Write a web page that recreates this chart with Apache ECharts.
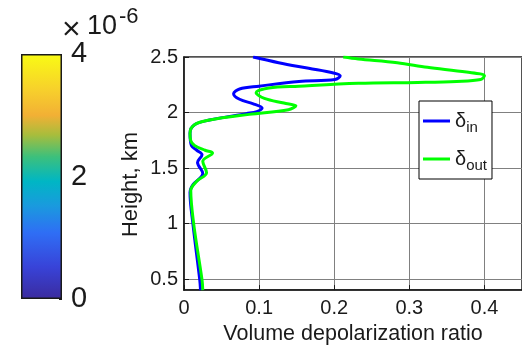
<!DOCTYPE html>
<html>
<head>
<meta charset="utf-8">
<script src="https://cdn.jsdelivr.net/npm/echarts@6/dist/echarts.min.js"></script>
<style>
  html, body { margin: 0; padding: 0; background: #fff; }
  #chart { width: 522px; height: 350px; }
</style>
</head>
<body>
<div id="chart"></div>
<script>
// delta_in profile: [ratio, height km]
const deltaIn = [
  [0.092, 2.5], [0.126, 2.449], [0.166, 2.398], [0.199, 2.356], [0.208, 2.33],
  [0.201, 2.297], [0.153, 2.28], [0.100, 2.237], [0.074, 2.212], [0.066, 2.17],
  [0.074, 2.119], [0.093, 2.076], [0.104, 2.04], [0.097, 2.008], [0.083, 1.99],
  [0.034, 1.932], [0.014, 1.89], [0.008, 1.814], [0.010, 1.70], [0.017, 1.66],
  [0.024, 1.62], [0.018, 1.55], [0.025, 1.45], [0.012, 1.35], [0.008, 1.28],
  [0.012, 0.99], [0.021, 0.49], [0.022, 0.40]
];
// delta_out profile
const deltaOut = [
  [0.212, 2.5], [0.232, 2.483], [0.284, 2.449], [0.324, 2.407], [0.376, 2.364],
  [0.400, 2.33], [0.395, 2.297], [0.363, 2.28], [0.311, 2.271], [0.232, 2.263],
  [0.153, 2.237], [0.113, 2.22], [0.096, 2.178], [0.107, 2.127], [0.133, 2.085],
  [0.149, 2.06], [0.139, 2.025], [0.087, 1.983], [0.034, 1.932], [0.014, 1.89],
  [0.008, 1.814], [0.009, 1.746], [0.014, 1.703], [0.028, 1.66], [0.038, 1.636],
  [0.025, 1.56], [0.030, 1.458], [0.017, 1.381], [0.009, 1.297], [0.013, 0.992],
  [0.024, 0.492], [0.025, 0.40]
];
const seriesNames = ['δin', 'δout'];
const colorbarMax = [4];

const font = "'Liberation Sans', Arial, sans-serif";
const ink = '#1a1a1a';

var myChart = echarts.init(document.getElementById('chart'));
myChart.setOption({
  animation: false,
  textStyle: { fontFamily: font },
  grid: [
    { // main plot
      left: 184, top: 57, right: -4, bottom: 46,
      show: true, borderColor: ink, borderWidth: 1.5, backgroundColor: '#fff'
    },
    { // colorbar
      left: 21, top: 54, width: 41, height: 245
    }
  ],
  legend: {
    data: seriesNames,
    orient: 'vertical',
    left: 419, top: 101,
    padding: [6, 5, 6, 4],
    itemGap: 10,
    itemWidth: 27, itemHeight: 3,
    icon: 'rect',
    backgroundColor: '#fff',
    borderColor: '#000',
    borderWidth: 1,
    formatter: function (name) {
      return '{d|δ}{s|' + name.slice(1) + '}';
    },
    textStyle: {
      color: ink,
      rich: {
        d: { fontSize: 20, fontFamily: font, color: ink, lineHeight: 26 },
        s: { fontSize: 15, fontFamily: font, color: ink, padding: [13, 0, 0, 0], lineHeight: 26 }
      }
    }
  },
  xAxis: [
    {
      type: 'value', gridIndex: 0,
      min: 0, max: 0.45, interval: 0.1,
      name: 'Volume depolarization ratio',
      nameLocation: 'middle', nameGap: 26,
      nameTextStyle: { fontSize: 21.5, color: ink },
      axisLine: { show: true, lineStyle: { color: ink, width: 1.5 } },
      axisTick: { show: true, inside: true, length: 5, lineStyle: { color: ink } },
      axisLabel: { fontSize: 20, color: ink, margin: 8, showMaxLabel: false },
      splitLine: { show: true, lineStyle: { color: '#808080', width: 1 } }
    },
    {
      type: 'category', gridIndex: 1, data: [''],
      show: false
    }
  ],
  yAxis: [
    {
      type: 'value', gridIndex: 0,
      min: 0.4, max: 2.5, splitNumber: 4,
      name: 'Height, km',
      nameLocation: 'middle', nameGap: 42, nameMoveOverlap: false,
      nameTextStyle: { fontSize: 22, color: ink, padding: [0, 22, 0, 0] },
      axisLine: { show: true, lineStyle: { color: ink, width: 1.5 } },
      axisTick: { show: true, inside: true, length: 5, lineStyle: { color: ink } },
      axisLabel: { fontSize: 20, color: ink, margin: 6, showMinLabel: false },
      splitLine: { show: true, lineStyle: { color: '#808080', width: 1 } }
    },
    {
      type: 'value', gridIndex: 1, position: 'right',
      min: 0, max: 4, interval: 2,
      axisLine: { show: false },
      axisTick: { show: true, inside: true, length: 3, lineStyle: { color: ink } },
      axisLabel: { fontSize: 29, color: ink, margin: 9 },
      splitLine: { show: false }
    }
  ],
  graphic: [
    { type: 'text', left: 62, top: 14, style: { text: '×', fontSize: 32, fontFamily: font, fill: ink } },
    { type: 'text', left: 87, top: 13, style: { text: '10', fontSize: 27, fontFamily: font, fill: ink } },
    { type: 'text', left: 119, top: 6, style: { text: '-6', fontSize: 22, fontFamily: font, fill: ink } }
  ],
  series: [
    {
      name: seriesNames[0], type: 'line',
      xAxisIndex: 0, yAxisIndex: 0,
      data: deltaIn, smooth: 0.35, showSymbol: false,
      lineStyle: { color: '#0000ff', width: 3 },
      itemStyle: { color: '#0000ff' }, z: 3
    },
    {
      name: seriesNames[1], type: 'line',
      xAxisIndex: 0, yAxisIndex: 0,
      data: deltaOut, smooth: 0.35, showSymbol: false,
      lineStyle: { color: '#00ff00', width: 3 },
      itemStyle: { color: '#00ff00' }, z: 4
    },
    {
      type: 'bar', xAxisIndex: 1, yAxisIndex: 1,
      data: colorbarMax, barWidth: '100%', silent: true,
      itemStyle: {
        borderColor: ink, borderWidth: 1.5,
        color: new echarts.graphic.LinearGradient(0, 1, 0, 0, [
          { offset: 0, color: '#3b2b9e' },
          { offset: 0.13, color: '#3843d8' },
          { offset: 0.27, color: '#2f6ef5' },
          { offset: 0.38, color: '#1a9ade' },
          { offset: 0.48, color: '#00b6c4' },
          { offset: 0.58, color: '#3cc07c' },
          { offset: 0.67, color: '#a8bd3c' },
          { offset: 0.75, color: '#f2b035' },
          { offset: 0.85, color: '#f7cf2c' },
          { offset: 1, color: '#f9fb14' }
        ])
      }
    }
  ]
});
</script>
</body>
</html>
